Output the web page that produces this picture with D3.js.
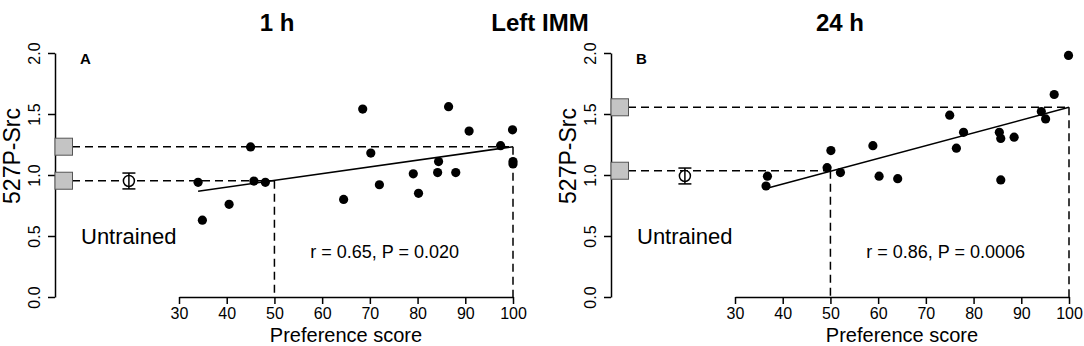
<!DOCTYPE html>
<html>
<head>
<meta charset="utf-8">
<script src="https://cdn.jsdelivr.net/npm/d3@7"></script>
<style>
  body { margin: 0; background: #fff; }
  svg { display: block; font-family: "Liberation Sans", Arial, sans-serif; }
</style>
</head>
<body>
<div id="chart"></div>
<script>
const xTicks = [30, 40, 50, 60, 70, 80, 90, 100];
const yTicks = [0, 0.5, 1, 1.5, 2];
const mainTitle = "Left IMM";
const panelTitles = ["1 h", "24 h"];
const panelLetters = ["A", "B"];
const statTexts = ["r = 0.65, P = 0.020", "r = 0.86, P = 0.0006"];

// panel A (1 h)
const scoreA = [34.0, 34.9, 40.5, 45.0, 45.7, 48.1, 64.5, 68.5, 70.2, 72.0, 79.1, 80.2, 84.2, 84.4, 86.5, 88.0, 90.8, 97.4, 99.9, 100, 100];
const srcA = [0.94, 0.63, 0.76, 1.23, 0.95, 0.94, 0.80, 1.54, 1.18, 0.92, 1.01, 0.85, 1.02, 1.11, 1.56, 1.02, 1.36, 1.24, 1.37, 1.11, 1.09];
const fitA = [[34, 0.867], [100, 1.232]];
const levelsA = [1.232, 0.953];      // predicted at score 100 and 50
const untrainedA = [0.951, 0.065];   // mean, error

// panel B (24 h)
const scoreB = [36.8, 36.5, 49.3, 50.1, 52.1, 58.9, 60.2, 64.1, 75.0, 76.4, 77.9, 85.4, 85.7, 85.7, 88.5, 94.2, 95.1, 96.9, 99.9];
const srcB = [0.99, 0.91, 1.06, 1.20, 1.02, 1.24, 0.99, 0.97, 1.49, 1.22, 1.35, 1.35, 1.30, 0.96, 1.31, 1.52, 1.46, 1.66, 1.98];
const fitB = [[36.5, 0.89], [100, 1.555]];
const levelsB = [1.555, 1.035];
const untrainedB = [0.992, 0.065];

const levelScores = [100, 50];
const untrainedScore = 19.5;

const W = 1084, H = 346;
const svg = d3.select("#chart").append("svg").attr("width", W).attr("height", H);

const y = d3.scaleLinear().domain([0, 2]).range([297, 53]);

svg.append("text").attr("x", 540).attr("y", 31).attr("text-anchor", "middle")
  .attr("font-size", 24).attr("font-weight", "bold").text(mainTitle);

function panel(i, axisX, xRange, titleX, scores, srcs, fit, levels, untrained) {
  const x = d3.scaleLinear().domain([30, 100]).range(xRange);
  const g = svg.append("g");
  const dash = "8,5";

  // y axis
  const ya = g.append("g").attr("transform", `translate(${axisX},0)`)
    .call(d3.axisLeft(y).tickValues(yTicks).tickSize(7).tickSizeOuter(0).tickFormat(d3.format(".1f")));
  ya.select(".domain").attr("stroke-width", 1.5);
  ya.selectAll(".tick line").attr("stroke-width", 1.5);
  ya.selectAll(".tick text").attr("x", null).attr("dy", null)
    .attr("text-anchor", "middle").attr("font-size", 16).attr("fill", "#000")
    .attr("transform", "translate(-15,0) rotate(-90)");

  // x axis
  const xa = g.append("g").attr("transform", `translate(0,${y(0)})`)
    .call(d3.axisBottom(x).tickValues(xTicks).tickSize(7).tickSizeOuter(0).tickPadding(4));
  xa.select(".domain").attr("stroke-width", 1.5);
  xa.selectAll(".tick line").attr("stroke-width", 1.5);
  xa.selectAll(".tick text").attr("font-size", 16).attr("fill", "#000");
  g.selectAll(".domain, .tick line").attr("stroke", "#000");
  g.selectAll("g").attr("font-family", null);

  // titles and labels
  g.append("text").attr("x", titleX).attr("y", 31).attr("text-anchor", "middle")
    .attr("font-size", 24).attr("font-weight", "bold").text(panelTitles[i]);
  g.append("text").attr("x", axisX + 25).attr("y", 64)
    .attr("font-size", 15).attr("font-weight", "bold").text(panelLetters[i]);
  g.append("text").attr("x", (xRange[0] + xRange[1]) / 2).attr("y", 342).attr("text-anchor", "middle")
    .attr("font-size", 20).text("Preference score");
  g.append("text").attr("transform", `translate(${axisX - 35},156) rotate(-90)`).attr("text-anchor", "middle")
    .attr("font-size", 23).text("527P-Src");
  g.append("text").attr("x", axisX + 26).attr("y", 244).attr("font-size", 22).text("Untrained");
  g.append("text").attr("x", x(57.5)).attr("y", 258).attr("font-size", 18).text(statTexts[i]);

  // dashed reference lines
  levels.forEach((lv, k) => {
    const sx = x(levelScores[k]);
    g.append("line").attr("x1", axisX + 17).attr("x2", sx).attr("y1", y(lv)).attr("y2", y(lv))
      .attr("stroke", "#000").attr("stroke-width", 1.5).attr("stroke-dasharray", dash);
    g.append("line").attr("x1", sx).attr("x2", sx).attr("y1", y(lv)).attr("y2", y(0))
      .attr("stroke", "#000").attr("stroke-width", 1.5).attr("stroke-dasharray", dash);
    g.append("rect").attr("x", axisX).attr("y", y(lv) - 8.5).attr("width", 17.5).attr("height", 17)
      .attr("fill", "#c4c4c4").attr("stroke", "#555").attr("stroke-width", 1);
  });

  // untrained mean with error bar
  const ux = x(untrainedScore);
  const [um, ue] = untrained;
  g.append("line").attr("x1", ux).attr("x2", ux).attr("y1", y(um + ue)).attr("y2", y(um - ue))
    .attr("stroke", "#000").attr("stroke-width", 1.5);
  [um + ue, um - ue].forEach(v => {
    g.append("line").attr("x1", ux - 6.5).attr("x2", ux + 6.5).attr("y1", y(v)).attr("y2", y(v))
      .attr("stroke", "#000").attr("stroke-width", 1.5);
  });
  g.append("circle").attr("cx", ux).attr("cy", y(um)).attr("r", 5.5)
    .attr("fill", "#fff").attr("stroke", "#000").attr("stroke-width", 1.5);
  g.append("line").attr("x1", ux).attr("x2", ux).attr("y1", y(um) - 5.5).attr("y2", y(um) + 5.5)
    .attr("stroke", "#000").attr("stroke-width", 1.5);

  // regression line
  g.append("path").attr("d", d3.line().x(d => x(d[0])).y(d => y(d[1]))(fit))
    .attr("fill", "none").attr("stroke", "#000").attr("stroke-width", 1.5);

  // points
  g.append("g").selectAll("circle").data(scores).join("circle")
    .attr("cx", d => x(d)).attr("cy", (d, j) => y(srcs[j])).attr("r", 4.6).attr("fill", "#000");
}

panel(0, 55, [179, 513], 277, scoreA, srcA, fitA, levelsA, untrainedA);
panel(1, 611, [735, 1069], 840, scoreB, srcB, fitB, levelsB, untrainedB);
</script>
</body>
</html>
